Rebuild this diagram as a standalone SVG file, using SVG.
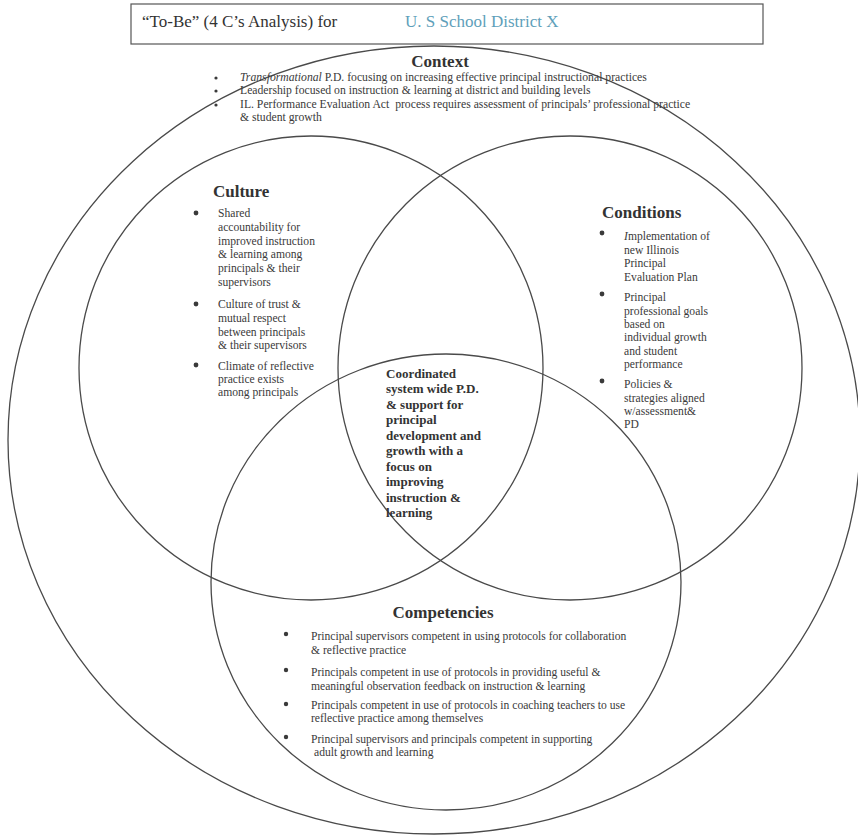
<svg xmlns="http://www.w3.org/2000/svg" width="858" height="835" viewBox="0 0 858 835">
<style>
.ring{fill:none;stroke:#4a4a4a;stroke-width:1.3}
.h{font-family:"Liberation Serif",serif;font-weight:bold;font-size:17px;fill:#333}
.t{font-family:"Liberation Serif",serif;font-size:11.6px;fill:#3a3a3a}
.k{font-family:"Liberation Serif",serif;font-size:11.7px;fill:#3a3a3a}
.c{font-family:"Liberation Serif",serif;font-weight:bold;font-size:13px;fill:#333}
.dot{fill:#3a3a3a}
</style>
<rect width="858" height="835" fill="#ffffff"/>
<g id="title">
<rect x="131" y="4" width="632" height="40" fill="none" stroke="#555" stroke-width="1.2"/>
<text x="142" y="27" font-family="Liberation Serif, serif" font-size="17" fill="#333">“To-Be” (4 C’s Analysis) for</text>
<text x="405" y="27" font-family="Liberation Serif, serif" font-size="17" fill="#5f9fba">U. S School District X</text>
</g>
<g id="context">
<ellipse class="ring" cx="434" cy="440" rx="426" ry="394"/>
<text class="h" x="440" y="67" text-anchor="middle">Context</text>
<circle class="dot" cx="216" cy="78" r="1.6"/>
<circle class="dot" cx="216" cy="91" r="1.6"/>
<circle class="dot" cx="216" cy="105" r="1.6"/>
<text class="k" x="240" y="81"><tspan font-style="italic">Transformational</tspan> P.D. focusing on increasing effective principal instructional practices</text>
<text class="k" x="240" y="94">Leadership focused on instruction &amp; learning at district and building levels</text>
<text class="k" x="240" y="108" xml:space="preserve">IL. Performance Evaluation Act  process requires assessment of principals’ professional practice</text>
<text class="k" x="240" y="121">&amp; student growth</text>
</g>
<g id="culture">
<circle class="ring" cx="311" cy="368" r="232"/>
<text class="h" x="213" y="197">Culture</text>
<circle class="dot" cx="196" cy="213" r="2.4"/>
<circle class="dot" cx="196" cy="304" r="2.4"/>
<circle class="dot" cx="196" cy="365" r="2.4"/>
<text class="t" x="218" y="217">Shared</text>
<text class="t" x="218" y="231">accountability for</text>
<text class="t" x="218" y="245">improved instruction</text>
<text class="t" x="218" y="258">&amp; learning among</text>
<text class="t" x="218" y="272">principals &amp; their</text>
<text class="t" x="218" y="286">supervisors</text>
<text class="t" x="218" y="308">Culture of trust &amp;</text>
<text class="t" x="218" y="322">mutual respect</text>
<text class="t" x="218" y="336">between principals</text>
<text class="t" x="218" y="349">&amp; their supervisors</text>
<text class="t" x="218" y="370">Climate of reflective</text>
<text class="t" x="218" y="383">practice exists</text>
<text class="t" x="218" y="396">among principals</text>
</g>
<g id="conditions">
<circle class="ring" cx="570" cy="368" r="232"/>
<text class="h" x="602" y="218">Conditions</text>
<circle class="dot" cx="602" cy="233" r="2.4"/>
<circle class="dot" cx="602" cy="294" r="2.4"/>
<circle class="dot" cx="602" cy="381" r="2.4"/>
<text class="t" x="624" y="240"><tspan font-style="italic">I</tspan>mplementation of</text>
<text class="t" x="624" y="254">new Illinois</text>
<text class="t" x="624" y="267">Principal</text>
<text class="t" x="624" y="281">Evaluation Plan</text>
<text class="t" x="624" y="301">Principal</text>
<text class="t" x="624" y="315">professional goals</text>
<text class="t" x="624" y="328">based on</text>
<text class="t" x="624" y="341">individual growth</text>
<text class="t" x="624" y="355">and student</text>
<text class="t" x="624" y="368">performance</text>
<text class="t" x="624" y="388">Policies &amp;</text>
<text class="t" x="624" y="402">strategies aligned</text>
<text class="t" x="624" y="415">w/assessment&amp;</text>
<text class="t" x="624" y="428">PD</text>
</g>
<g id="competencies">
<ellipse class="ring" cx="446" cy="582" rx="235" ry="228"/>
<text class="h" x="443" y="618" text-anchor="middle">Competencies</text>
<circle class="dot" cx="286" cy="634" r="2.2"/>
<circle class="dot" cx="286" cy="670" r="2.2"/>
<circle class="dot" cx="286" cy="704" r="2.2"/>
<circle class="dot" cx="286" cy="737" r="2.2"/>
<text class="t" x="311" y="640">Principal supervisors competent in using protocols for collaboration</text>
<text class="t" x="311" y="654">&amp; reflective practice</text>
<text class="t" x="311" y="676">Principals competent in use of protocols in providing useful &amp;</text>
<text class="t" x="311" y="690">meaningful observation feedback on instruction &amp; learning</text>
<text class="t" x="311" y="709">Principals competent in use of protocols in coaching teachers to use</text>
<text class="t" x="311" y="722">reflective practice among themselves</text>
<text class="t" x="311" y="743">Principal supervisors and principals competent in supporting</text>
<text class="t" x="314" y="756">adult growth and learning</text>
</g>
<g id="core">
<text class="c" x="386" y="378">Coordinated</text>
<text class="c" x="386" y="393">system wide P.D.</text>
<text class="c" x="386" y="409">&amp; support for</text>
<text class="c" x="386" y="424">principal</text>
<text class="c" x="386" y="440">development and</text>
<text class="c" x="386" y="455">growth with a</text>
<text class="c" x="386" y="471">focus on</text>
<text class="c" x="386" y="486">improving</text>
<text class="c" x="386" y="502">instruction &amp;</text>
<text class="c" x="386" y="517">learning</text>
</g>
</svg>
